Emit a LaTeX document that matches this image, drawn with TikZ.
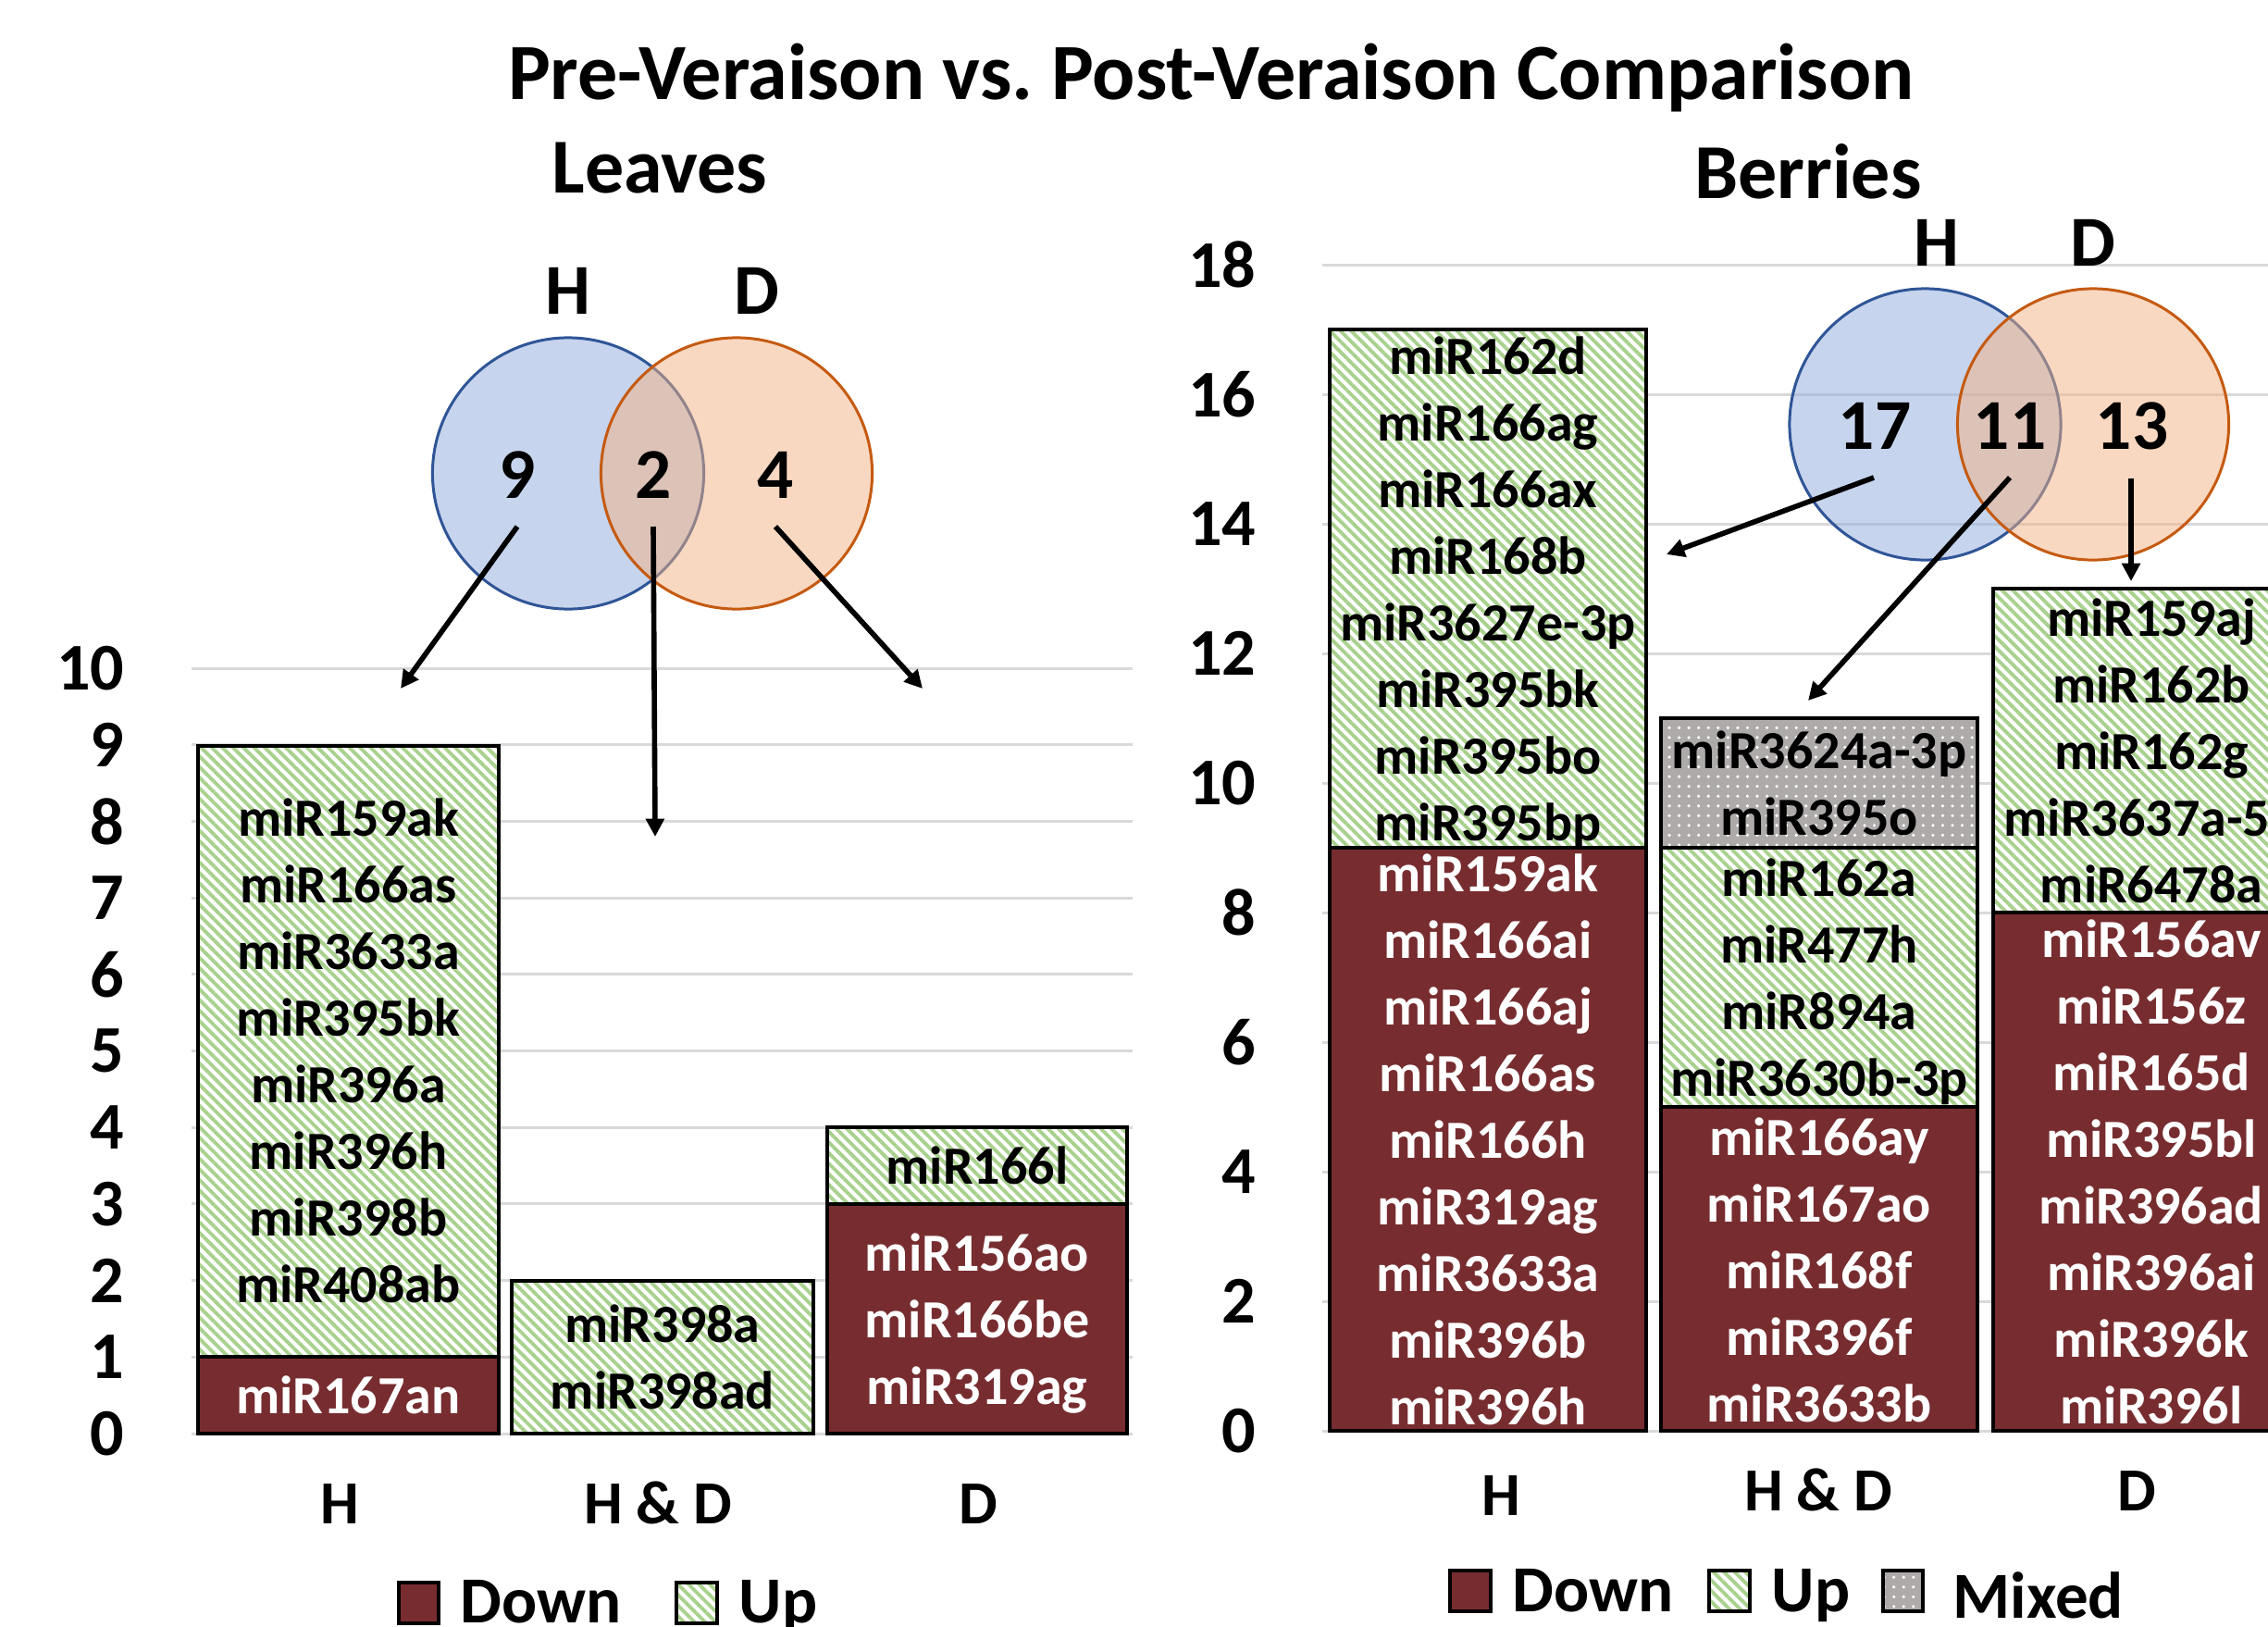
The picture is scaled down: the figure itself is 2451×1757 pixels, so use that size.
\documentclass[tikz,border=0pt]{standalone}
\usepackage{fontspec}
\setmainfont{Carlito}
\usetikzlibrary{arrows.meta,patterns.meta}

\definecolor{downred}{RGB}{119,45,48}
\definecolor{upgreen}{RGB}{169,209,142}
\definecolor{mixgray}{RGB}{174,170,170}
\definecolor{gridgray}{RGB}{217,217,217}
\definecolor{hfill}{RGB}{143,170,220}
\definecolor{hline}{RGB}{47,85,151}
\definecolor{dfill}{RGB}{244,177,131}
\definecolor{dline}{RGB}{197,90,17}

% stacked list of names centred in a bar segment
% #1 name prefix, #2 x centre, #3 y centre, #4 style, #5 names
\newcommand{\seglabels}[5]{%
  \foreach \t [count=\n] in {#5} {\xdef\nitems{\n}}%
  \foreach \t [count=\i] in {#5} {%
    \node[#4, anchor=base] (#1-\i) at ({#2}, {#3 + (\i-(\nitems+1)/2)*72 + 18}) {\t};
  }%
}

\begin{document}
\frenchspacing
\begin{tikzpicture}[x=0.01cm, y=-0.01cm,
  every node/.style={inner sep=0pt, font=\bfseries},
  grid/.style={draw=gridgray, line width=0.85pt},
  stripes/.style={preaction={fill=white},
    pattern={Lines[angle=-45, distance=2.3pt, line width=1.1pt]},
    pattern color=upgreen},
  dotted fill/.style={preaction={fill=mixgray},
    pattern={Dots[distance=3pt, radius=0.5pt]},
    pattern color=white},
  downseg/.style={fill=downred, draw=black, line width=1.2pt},
  upseg/.style={stripes, draw=black, line width=1.2pt},
  mixseg/.style={dotted fill, draw=black, line width=1.2pt},
  bartxt/.style={font=\bfseries\fontsize{16.5}{20}\selectfont},
  bartxtw/.style={bartxt, text=white},
  axlbl/.style={font=\bfseries\fontsize{20.5}{24}\selectfont, anchor=east},
  catlbl/.style={font=\bfseries\fontsize{18.8}{22}\selectfont, anchor=base},
  vennlbl/.style={font=\bfseries\fontsize{22}{26}\selectfont, anchor=base},
  legtxt/.style={font=\bfseries\fontsize{20.2}{24}\selectfont, anchor=base west},
  legbox/.style={draw=black, line width=1pt},
  hset/.style={circle, minimum size=2.93cm, draw=hline, line width=0.85pt,
    fill=hfill, fill opacity=0.5},
  dset/.style={circle, minimum size=2.93cm, draw=dline, line width=0.85pt,
    fill=dfill, fill opacity=0.5},
  arrow/.style={-{Triangle[length=5.5pt, width=5.5pt]}, line width=1.6pt},
  head/.style={font=\bfseries\fontsize{24.5}{28}\selectfont, anchor=base},
  subhead/.style={font=\bfseries\fontsize{23.9}{28}\selectfont, anchor=base}]

\useasboundingbox (0,0) rectangle (2451,1757);
\clip (0,0) rectangle (2451,1757);

% ---------- titles ----------
\node[head] (title) at (1309,107) {Pre-Veraison vs. Post-Veraison Comparison};
\node[subhead] (leaves) at (713,208) {Leaves};
\node[subhead] (berries) at (1954,214) {Berries};

% ---------- leaves chart ----------
\foreach \k in {0,...,10} {
  \draw[grid] (207,{1549-82.7*\k}) -- (1224,{1549-82.7*\k});
  \node[axlbl] (ly\k) at (135,{1549-82.7*\k}) {\k};
}
% H
\draw[downseg] (214,1466.3) rectangle (539,1549);
\draw[upseg]   (214,805.7) rectangle (539,1466.3);
% H & D
\draw[upseg]   (553,1383.6) rectangle (879,1549);
% D
\draw[downseg] (894,1300.9) rectangle (1218,1549);
\draw[upseg]   (894,1218.2) rectangle (1218,1300.9);

\seglabels{lHu}{376.5}{1137}{bartxt}{miR159ak,miR166as,miR3633a,miR395bk,miR396a,miR396h,miR398b,miR408ab}
\seglabels{lHd}{376.5}{1509}{bartxtw}{miR167an}
\seglabels{lBu}{716}{1468}{bartxt}{miR398a,miR398ad}
\seglabels{lDd}{1056}{1427}{bartxtw}{miR156ao,miR166be,miR319ag}
\seglabels{lDu}{1056}{1261}{bartxt}{miR166l}

\node[catlbl] (lcH) at (367,1646) {H};
\node[catlbl] (lcB) at (711,1646) {H \& D};
\node[catlbl] (lcD) at (1057,1646) {D};

% leaves Venn
\node[hset] (lvH) at (614,511.5) {};
\node[dset] (lvD) at (796,511.5) {};
\node[vennlbl] (lvHl) at (614,339) {H};
\node[vennlbl] (lvDl) at (818,339) {D};
\node[vennlbl] (lv9) at (559,538) {9};
\node[vennlbl] (lv2) at (706,538) {2};
\node[vennlbl] (lv4) at (838,538) {4};
\coordinate (la1) at (559,569);  \coordinate (lb1) at (433,744);
\coordinate (la2) at (706,569);  \coordinate (lb2) at (708,904);
\coordinate (la3) at (838,569);  \coordinate (lb3) at (997,744);
\draw[arrow] (la1) -- (lb1);
\draw[arrow] (la2) -- (lb2);
\draw[arrow] (la3) -- (lb3);

% leaves legend
\draw[legbox, fill=downred] (431,1710) rectangle (474,1754);
\node[legtxt] (llDown) at (497,1753) {Down};
\draw[legbox, stripes] (731,1710) rectangle (775,1754);
\node[legtxt] (llUp) at (798,1753) {Up};

% ---------- berries chart ----------
\foreach \k in {0,2,...,18} {
  \draw[grid] (1429,{1546-70*\k}) -- (2503,{1546-70*\k});
  \node[axlbl] (ry\k) at (1358,{1546-70*\k}) {\k};
}
% H
\draw[downseg] (1437,916) rectangle (1779,1546);
\draw[upseg]   (1437,356) rectangle (1779,916);
% H & D
\draw[downseg] (1795,1196) rectangle (2137,1546);
\draw[upseg]   (1795,916) rectangle (2137,1196);
\draw[mixseg]  (1795,776) rectangle (2137,916);
% D
\draw[downseg] (2154,986) rectangle (2496,1546);
\draw[upseg]   (2154,636) rectangle (2496,986);

\seglabels{rHu}{1608}{638}{bartxt}{miR162d,miR166ag,miR166ax,miR168b,miR3627e-3p,miR395bk,miR395bo,miR395bp}
\seglabels{rHd}{1608}{1233}{bartxtw}{miR159ak,miR166ai,miR166aj,miR166as,miR166h,miR319ag,miR3633a,miR396b,miR396h}
\seglabels{rBm}{1966}{848}{bartxt}{miR3624a-3p,miR395o}
\seglabels{rBu}{1966}{1058}{bartxt}{miR162a,miR477h,miR894a,miR3630b-3p}
\seglabels{rBd}{1966}{1374}{bartxtw}{miR166ay,miR167ao,miR168f,miR396f,miR3633b}
\seglabels{rDu}{2325}{813}{bartxt}{miR159aj,miR162b,miR162g,miR3637a-5p,miR6478a}
\seglabels{rDd}{2325}{1268}{bartxtw}{miR156av,miR156z,miR165d,miR395bl,miR396ad,miR396ai,miR396k,miR396l}

\node[catlbl] (rcH) at (1622,1637) {H};
\node[catlbl] (rcB) at (1965,1632) {H \& D};
\node[catlbl] (rcD) at (2309,1632) {D};

% berries Venn
\node[hset] (rvH) at (2080.5,458.5) {};
\node[dset] (rvD) at (2262,458.5) {};
\node[vennlbl] (rvHl) at (2093,287) {H};
\node[vennlbl] (rvDl) at (2262,287) {D};
\node[vennlbl] (rv17) at (2026,485) {17};
\node[vennlbl] (rv11) at (2172,485) {11};
\node[vennlbl] (rv13) at (2304,485) {13};
\coordinate (ra1) at (2025,516);  \coordinate (rb1) at (1801,599);
\coordinate (ra2) at (2172,516);  \coordinate (rb2) at (1954,757);
\coordinate (ra3) at (2303,517);  \coordinate (rb3) at (2303,628);
\draw[arrow] (ra1) -- (rb1);
\draw[arrow] (ra2) -- (rb2);
\draw[arrow] (ra3) -- (rb3);

% berries legend
\draw[legbox, fill=downred] (1567,1697) rectangle (1611,1741);
\node[legtxt] (rlDown) at (1634,1741) {Down};
\draw[legbox, stripes] (1847,1697) rectangle (1891,1741);
\node[legtxt] (rlUp) at (1914,1741) {Up};
\draw[legbox, dotted fill] (2035,1697) rectangle (2078,1741);
\node[legtxt] (rlMix) at (2110,1748) {Mixed};

\end{tikzpicture}
\end{document}
